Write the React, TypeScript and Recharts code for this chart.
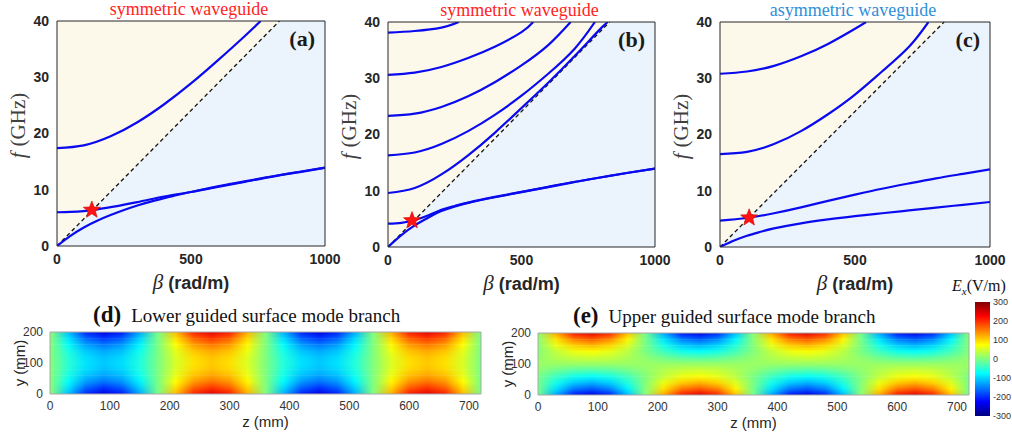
import React from "react";
import {
  ComposedChart,
  Line,
  Area,
  Scatter,
  XAxis,
  YAxis,
  CartesianGrid,
  ReferenceArea,
} from "recharts";

// light line f = c*beta, and the region under it (beta in rad/m, f in GHz)
const lightLineB = [0, 830];
const lightLineF = [0, 40];
const belowLightB = [0, 830, 1000];
const belowLightF = [0, 40, 40];

// (a) symmetric waveguide
const aHighB = [0, 100, 200, 300, 400, 500, 600, 700, 760];
const aHighF = [17.4, 17.9, 19.5, 22.0, 25.2, 28.9, 33.0, 37.3, 40];
const aSurfTopB = [0, 50, 100, 150, 200, 300, 400, 500, 600, 700, 800, 900, 1000];
const aSurfTopF = [6.0, 6.05, 6.2, 6.5, 6.9, 7.8, 8.8, 9.6, 10.5, 11.4, 12.3, 13.1, 13.9];
const aSurfLowB = [0, 50, 100, 150, 200, 250, 300, 350, 400, 450, 500, 600, 700, 800, 900, 1000];
const aSurfLowF = [0, 1.8, 3.3, 4.5, 5.5, 6.4, 7.2, 7.9, 8.5, 9.1, 9.6, 10.6, 11.5, 12.35, 13.15, 13.95];
const aStar = [{ b: 130, f: 6.4 }];

// (b) symmetric waveguide, thicker
const bM6B = [0, 100, 200, 265];
const bM6F = [38.1, 38.4, 39.0, 40];
const bM5B = [0, 100, 200, 300, 400, 500, 544];
const bM5F = [30.6, 31.0, 32.0, 33.6, 35.6, 38.2, 40];
const bM4B = [0, 100, 200, 300, 400, 500, 600, 684];
const bM4F = [23.3, 23.7, 24.9, 26.8, 29.3, 32.3, 35.9, 40];
const bM3B = [0, 100, 200, 300, 400, 500, 600, 700, 775];
const bM3F = [16.3, 16.8, 18.3, 20.6, 23.5, 26.9, 30.8, 35.3, 40];
const bM2B = [0, 100, 200, 300, 400, 500, 600, 700, 800, 825];
const bM2F = [9.6, 10.5, 12.9, 16.3, 20.3, 24.7, 29.2, 34.0, 39.0, 40];
const bSurfTopB = [0, 50, 100, 150, 200, 250, 300, 400, 500, 600, 700, 800, 900, 1000];
const bSurfTopF = [4.15, 4.3, 4.8, 5.6, 6.6, 7.3, 7.9, 8.9, 9.8, 10.7, 11.6, 12.4, 13.2, 13.95];
const bSurfLowB = [0, 50, 100, 150, 200, 250, 300, 400, 500, 600, 700, 800, 900, 1000];
const bSurfLowF = [0, 2.1, 3.85, 5.2, 6.4, 7.2, 7.85, 8.85, 9.75, 10.65, 11.55, 12.4, 13.2, 13.95];
const bStar = [{ b: 90, f: 4.7 }];

// (c) asymmetric waveguide
const cM3B = [0, 100, 200, 300, 400, 500, 541];
const cM3F = [30.8, 31.2, 32.2, 33.9, 36.1, 38.8, 40];
const cM2B = [0, 100, 200, 300, 400, 500, 600, 700, 772];
const cM2F = [16.5, 16.9, 18.3, 20.6, 23.6, 27.1, 31.2, 35.6, 40];
const cSurfTopB = [0, 100, 200, 300, 400, 500, 600, 700, 800, 900, 1000];
const cSurfTopF = [4.7, 5.15, 6.0, 7.05, 8.2, 9.3, 10.35, 11.3, 12.2, 13.0, 13.8];
const cSurfLowB = [0, 50, 100, 150, 200, 300, 400, 500, 600, 700, 800, 900, 1000];
const cSurfLowF = [0, 1.1, 2.0, 2.7, 3.3, 4.2, 4.9, 5.5, 6.0, 6.5, 7.0, 7.5, 8.0];
const cStar = [{ b: 108, f: 5.2 }];

// field maps: Ex (V/m) sampled along z (mm) for each y row (mm)
const zSamples = [0, 30, 60, 90, 120, 150, 180, 210, 240, 270, 300, 330, 360, 390, 420, 450, 480, 510, 540, 570, 600, 630, 660, 690, 720];
const yRows = [0, 20, 40, 60, 80, 100, 120, 140, 160, 180, 200];

// (d) lower branch
const dRow0 = [11, -111, -203, -240, -211, -126, -6, 115, 205, 240, 210, 122, 2, -119, -207, -240, -207, -121, 2, 122, 210, 240, 207, 115, -4];
const dRow20 = [9, -90, -165, -195, -172, -102, -5, 94, 167, 195, 170, 100, 2, -97, -168, -195, -168, -99, 1, 100, 170, 195, 168, 94, -3];
const dRow40 = [7, -72, -132, -156, -137, -82, -4, 75, 133, 156, 136, 80, 2, -77, -135, -156, -135, -79, 1, 80, 136, 156, 135, 75, -3];
const dRow60 = [6, -60, -108, -128, -113, -67, -3, 61, 109, 128, 112, 65, 1, -63, -111, -128, -111, -65, 1, 65, 112, 128, 111, 61, -2];
const dRow80 = [5, -52, -95, -112, -99, -59, -3, 54, 96, 112, 98, 57, 1, -56, -97, -112, -97, -57, 1, 57, 98, 112, 97, 54, -2];
const dRow100 = [5, -50, -90, -106, -94, -56, -3, 51, 91, 106, 93, 54, 1, -53, -92, -106, -92, -54, 1, 54, 93, 106, 92, 51, -2];
const lowerBranch = [dRow0, dRow20, dRow40, dRow60, dRow80, dRow100, dRow80, dRow60, dRow40, dRow20, dRow0];

// (e) upper branch
const eRow0 = [-8, -127, -212, -240, -204, -113, 8, 127, 212, 240, 204, 113, -8, -127, -212, -240, -204, -113, 8, 127, 212, 240, 204, 113, -8];
const eRow20 = [-6, -91, -152, -172, -146, -81, 6, 91, 152, 172, 146, 81, -6, -91, -152, -172, -146, -81, 6, 91, 152, 172, 146, 81, -6];
const eRow40 = [-4, -63, -104, -118, -100, -55, 4, 63, 104, 118, 100, 55, -4, -63, -104, -118, -100, -55, 4, 63, 104, 118, 100, 55, -4];
const eRow60 = [-3, -38, -64, -72, -61, -34, 3, 38, 64, 72, 61, 34, -3, -38, -64, -72, -61, -34, 3, 38, 64, 72, 61, 34, -3];
const eRow80 = [9, -9, -21, -25, -20, -6, 11, 29, 41, 45, 40, 26, 9, -9, -21, -25, -20, -6, 11, 29, 41, 45, 40, 26, 9];
const eRow100 = [15, 15, 15, 15, 15, 15, 15, 15, 15, 15, 15, 15, 15, 15, 15, 15, 15, 15, 15, 15, 15, 15, 15, 15, 15];
const eRow120 = [11, 29, 41, 45, 40, 26, 9, -9, -21, -25, -20, -6, 11, 29, 41, 45, 40, 26, 9, -9, -21, -25, -20, -6, 11];
const eRow140 = [3, 38, 64, 72, 61, 34, -3, -38, -64, -72, -61, -34, 3, 38, 64, 72, 61, 34, -3, -38, -64, -72, -61, -34, 3];
const eRow160 = [4, 63, 104, 118, 100, 55, -4, -63, -104, -118, -100, -55, 4, 63, 104, 118, 100, 55, -4, -63, -104, -118, -100, -55, 4];
const eRow180 = [6, 91, 152, 172, 146, 81, -6, -91, -152, -172, -146, -81, 6, 91, 152, 172, 146, 81, -6, -91, -152, -172, -146, -81, 6];
const eRow200 = [8, 127, 212, 240, 204, 113, -8, -127, -212, -240, -204, -113, 8, 127, 212, 240, 204, 113, -8, -127, -212, -240, -204, -113, 8];
const upperBranch = [eRow0, eRow20, eRow40, eRow60, eRow80, eRow100, eRow120, eRow140, eRow160, eRow180, eRow200];

const colorbarTicks = [-300, -200, -100, 0, 100, 200, 300];
const jetAnchors = [-300, -225, -75, 75, 225, 300];

const SANS = "'Liberation Sans', Arial, sans-serif";
const SERIF = "'Liberation Serif', 'Times New Roman', serif";

const zip = (b: number[], f: number[]) => b.map((v, i) => ({ b: v, f: f[i] }));

function jet(v: number) {
  const t = Math.min(1, Math.max(0, (v + 300) / 600));
  const ch = (c: number) => Math.round(255 * Math.min(1, Math.max(0, 1.5 - Math.abs(4 * t - c))));
  return `rgb(${ch(3)},${ch(2)},${ch(1)})`;
}

const StarShape = (props: any) => {
  const { cx, cy } = props;
  if (cx == null || cy == null) return null;
  const pts: string[] = [];
  for (let i = 0; i < 10; i++) {
    const r = i % 2 === 0 ? 9 : 3.8;
    const a = -Math.PI / 2 + (i * Math.PI) / 5;
    pts.push(`${cx + r * Math.cos(a)},${cy + r * Math.sin(a)}`);
  }
  return <polygon points={pts.join(" ")} fill="#ff1414" stroke="#d00000" strokeWidth={0.6} />;
};

const tickBold = { fontSize: 14, fontWeight: 700, fill: "#262626", fontFamily: SANS };

type Panel = {
  left: number;
  width: number;
  margin: { top: number; right: number; bottom: number; left: number };
  title: string;
  titleColor: string;
  tag: string;
  curves: [number[], number[]][];
  star: { b: number; f: number }[];
};

// top/right frame axes are 1px thick, margins account for it
const panels: Panel[] = [
  {
    left: 0,
    width: 345,
    margin: { top: 20, right: 19, bottom: 24, left: 17 },
    title: "symmetric waveguide",
    titleColor: "#ff2424",
    tag: "(a)",
    curves: [[aHighB, aHighF], [aSurfTopB, aSurfTopF], [aSurfLowB, aSurfLowF]],
    star: aStar,
  },
  {
    left: 330,
    width: 345,
    margin: { top: 21, right: 19, bottom: 23, left: 18 },
    title: "symmetric waveguide",
    titleColor: "#ff2424",
    tag: "(b)",
    curves: [
      [bM6B, bM6F], [bM5B, bM5F], [bM4B, bM4F], [bM3B, bM3F], [bM2B, bM2F],
      [bSurfTopB, bSurfTopF], [bSurfLowB, bSurfLowF],
    ],
    star: bStar,
  },
  {
    left: 662,
    width: 350,
    margin: { top: 21, right: 21, bottom: 23, left: 18 },
    title: "asymmetric waveguide",
    titleColor: "#2f8fd8",
    tag: "(c)",
    curves: [[cM3B, cM3F], [cM2B, cM2F], [cSurfTopB, cSurfTopF], [cSurfLowB, cSurfLowF]],
    star: cStar,
  },
];

function DispersionPanel({ p }: { p: Panel }) {
  return (
    <div style={{ position: "absolute", left: p.left, top: 0 }}>
      <ComposedChart width={p.width} height={300} data={zip(belowLightB, belowLightF)} margin={p.margin}>
        <CartesianGrid stroke="none" fill="#fdf9ea" fillOpacity={1} />
        <XAxis
          dataKey="b"
          type="number"
          domain={[0, 1000]}
          ticks={[0, 500, 1000]}
          allowDataOverflow
          height={30}
          tickLine={false}
          tickMargin={2}
          tick={tickBold}
          axisLine={{ stroke: "#262626" }}
          label={(lp: any) => {
            const vb = lp.viewBox;
            return (
              <text x={vb.x + vb.width / 2} y={vb.y + 43} textAnchor="middle" fill="#262626">
                <tspan fontFamily={SERIF} fontStyle="italic" fontSize={21}>β</tspan>
                <tspan fontFamily={SANS} fontWeight={700} fontSize={18} dx={5}>(rad/m)</tspan>
              </text>
            );
          }}
        />
        <XAxis
          xAxisId="top"
          orientation="top"
          type="number"
          domain={[0, 1000]}
          height={1}
          tick={false}
          tickLine={false}
          axisLine={{ stroke: "#262626" }}
          label={(lp: any) => {
            const vb = lp.viewBox;
            return (
              <g>
                <text x={vb.x + vb.width / 2 - 2} y={vb.y - 5} textAnchor="middle" fill={p.titleColor} fontFamily={SERIF} fontSize={18}>
                  {p.title}
                </text>
                <text x={vb.x + vb.width - 10} y={vb.y + 26} textAnchor="end" fill="#1a1a1a" fontFamily={SERIF} fontWeight={700} fontSize={22}>
                  {p.tag}
                </text>
              </g>
            );
          }}
        />
        <YAxis
          type="number"
          domain={[0, 40]}
          ticks={[0, 10, 20, 30, 40]}
          allowDataOverflow
          width={40}
          tickLine={false}
          tickMargin={2}
          tick={tickBold}
          axisLine={{ stroke: "#262626" }}
          label={(lp: any) => {
            const vb = lp.viewBox;
            const x = vb.x + 1;
            const y = vb.y + vb.height / 2 - 8;
            return (
              <text x={x} y={y} transform={`rotate(-90, ${x}, ${y})`} textAnchor="middle" dominantBaseline="central" fill="#404040" fontFamily={SERIF} fontSize={21}>
                <tspan fontStyle="italic">f</tspan>
                <tspan dx={6}>(GHz)</tspan>
              </text>
            );
          }}
        />
        <YAxis yAxisId="right" orientation="right" type="number" domain={[0, 40]} allowDataOverflow width={1} tick={false} tickLine={false} axisLine={{ stroke: "#262626" }} />
        <Area type="linear" dataKey="f" baseValue={0} fill="#ebf3fc" fillOpacity={1} stroke="none" isAnimationActive={false} />
        <Line
          data={zip(lightLineB, lightLineF)}
          dataKey="f"
          type="linear"
          stroke="#111"
          strokeWidth={1.3}
          strokeDasharray="4 3"
          dot={false}
          isAnimationActive={false}
        />
        {p.curves.map(([b, f], i) => (
          <Line
            key={i}
            data={zip(b, f)}
            dataKey="f"
            type="natural"
            stroke="#0a0af0"
            strokeWidth={2.2}
            dot={false}
            isAnimationActive={false}
          />
        ))}
        <Scatter data={p.star} dataKey="f" shape={StarShape} isAnimationActive={false} />
      </ComposedChart>
    </div>
  );
}

type MapPanel = {
  id: string;
  left: number;
  margin: { top: number; right: number; bottom: number; left: number };
  tag: string;
  title: string;
  titleDx: number;
  rows: number[][];
};

const maps: MapPanel[] = [
  { id: "d", left: 0, margin: { top: 41, right: 18, bottom: 25, left: 20 }, tag: "(d)", title: "Lower guided surface mode branch", titleDx: 43, rows: lowerBranch },
  { id: "e", left: 500, margin: { top: 42, right: 30, bottom: 24, left: 8 }, tag: "(e)", title: "Upper guided surface mode branch", titleDx: 35, rows: upperBranch },
];

const mapData = zSamples.map((z) => ({ z }));
const tickMap = { fontSize: 12, fill: "#333", fontFamily: SANS };

// each row band is painted solid from its own y up to the next row, then the next row
// is laid over it with a vertical fade so the browser blends neighbouring rows
function FieldMap({ m }: { m: MapPanel }) {
  const last = yRows.length - 1;
  return (
    <div style={{ position: "absolute", left: m.left, top: 290 }}>
      <ComposedChart width={500} height={154} data={mapData} margin={m.margin}>
        <defs>
          {m.rows.map((vals, r) => (
            <linearGradient key={r} id={`g-${m.id}-${r}`} x1="0" y1="0" x2="1" y2="0">
              {vals.map((v, k) => (
                <stop key={k} offset={`${(zSamples[k] / 720) * 100}%`} stopColor={jet(v)} />
              ))}
            </linearGradient>
          ))}
          <linearGradient id={`fade-${m.id}`} x1="0" y1="1" x2="0" y2="0">
            <stop offset="0%" stopColor="#000" />
            <stop offset="100%" stopColor="#fff" />
          </linearGradient>
          <mask id={`mask-${m.id}`} maskContentUnits="objectBoundingBox">
            <rect x={0} y={0} width={1} height={1} fill={`url(#fade-${m.id})`} />
          </mask>
        </defs>
        <XAxis
          dataKey="z"
          type="number"
          domain={[0, 720]}
          ticks={[0, 100, 200, 300, 400, 500, 600, 700]}
          allowDataOverflow
          height={25}
          tickLine={false}
          tickMargin={1}
          tick={tickMap}
          axisLine={{ stroke: "#a8a8a8" }}
          label={(lp: any) => {
            const vb = lp.viewBox;
            return (
              <text x={vb.x + vb.width / 2} y={vb.y + 33} textAnchor="middle" fill="#262626" fontFamily={SANS} fontSize={15}>
                z (mm)
              </text>
            );
          }}
        />
        <XAxis
          xAxisId="top"
          orientation="top"
          type="number"
          domain={[0, 720]}
          height={1}
          tick={false}
          tickLine={false}
          axisLine={{ stroke: "#a8a8a8" }}
          label={(lp: any) => {
            const vb = lp.viewBox;
            return (
              <text x={vb.x + m.titleDx} y={vb.y - 9} fill="#111" fontFamily={SERIF}>
                <tspan fontWeight={700} fontSize={23}>{m.tag}</tspan>
                <tspan fontSize={19} dx={10}>{m.title}</tspan>
              </text>
            );
          }}
        />
        <YAxis
          type="number"
          domain={[0, 200]}
          ticks={[0, 100, 200]}
          allowDataOverflow
          width={30}
          tickLine={false}
          tickMargin={1}
          tick={tickMap}
          axisLine={{ stroke: "#a8a8a8" }}
          label={(lp: any) => {
            const vb = lp.viewBox;
            const x = vb.x - 1;
            const y = vb.y + vb.height / 2;
            return (
              <text x={x} y={y} transform={`rotate(-90, ${x}, ${y})`} textAnchor="middle" dominantBaseline="central" fill="#262626" fontFamily={SANS} fontSize={15}>
                y (mm)
              </text>
            );
          }}
        />
        <YAxis yAxisId="right" orientation="right" type="number" domain={[0, 200]} allowDataOverflow width={1} tick={false} tickLine={false} axisLine={{ stroke: "#a8a8a8" }} />
        {yRows.slice(0, last).map((y, r) => (
          <ReferenceArea
            key={`base-${r}`}
            x1={0}
            x2={720}
            y1={r === 0 ? y : y - 1}
            y2={yRows[r + 1]}
            fill={`url(#g-${m.id}-${r})`}
            fillOpacity={1}
            stroke="none"
            ifOverflow="hidden"
          />
        ))}
        {yRows.slice(1).map((y, i) => (
          <ReferenceArea
            key={`blend-${i}`}
            x1={0}
            x2={720}
            y1={yRows[i]}
            y2={y}
            ifOverflow="hidden"
            shape={(sp: any) => (
              <rect
                x={sp.x}
                y={sp.y}
                width={sp.width}
                height={sp.height}
                fill={`url(#g-${m.id}-${i + 1})`}
                mask={`url(#mask-${m.id})`}
              />
            )}
          />
        ))}
      </ComposedChart>
    </div>
  );
}

const cbarData = [{ x: 0 }, { x: 1 }];

function Colorbar() {
  return (
    <div style={{ position: "absolute", left: 940, top: 270 }}>
      <ComposedChart width={72} height={174} data={cbarData} margin={{ top: 32, right: 0, bottom: 28, left: 35 }}>
        <defs>
          <linearGradient id="cbar" x1="0" y1="1" x2="0" y2="0">
            {jetAnchors.map((v, k) => (
              <stop key={k} offset={`${((v + 300) / 600) * 100}%`} stopColor={jet(v)} />
            ))}
          </linearGradient>
        </defs>
        <XAxis dataKey="x" type="number" domain={[0, 1]} allowDataOverflow hide />
        <YAxis
          orientation="right"
          type="number"
          domain={[-300, 300]}
          ticks={colorbarTicks}
          allowDataOverflow
          interval={0}
          width={22}
          tickLine={false}
          tickSize={0}
          tickMargin={3}
          axisLine={false}
          tick={{ fontSize: 9, fill: "#333", fontFamily: SANS }}
          label={(lp: any) => {
            const vb = lp.viewBox;
            return (
              <text x={vb.x - 38} y={vb.y - 11} fill="#111" fontFamily={SERIF} fontSize={16}>
                <tspan fontStyle="italic">E</tspan>
                <tspan fontStyle="italic" fontSize={11} dy={4}>x</tspan>
                <tspan dy={-4}>(V/m)</tspan>
              </text>
            );
          }}
        />
        <ReferenceArea x1={0} x2={1} y1={-300} y2={300} fill="url(#cbar)" fillOpacity={1} stroke="none" ifOverflow="hidden" />
      </ComposedChart>
    </div>
  );
}

export default function App() {
  return (
    <div style={{ position: "absolute", left: 0, top: 0, width: 1012, height: 444, background: "#fff", overflow: "hidden" }}>
      {panels.map((p) => (
        <DispersionPanel key={p.tag} p={p} />
      ))}
      {maps.map((m) => (
        <FieldMap key={m.id} m={m} />
      ))}
      <Colorbar />
    </div>
  );
}
